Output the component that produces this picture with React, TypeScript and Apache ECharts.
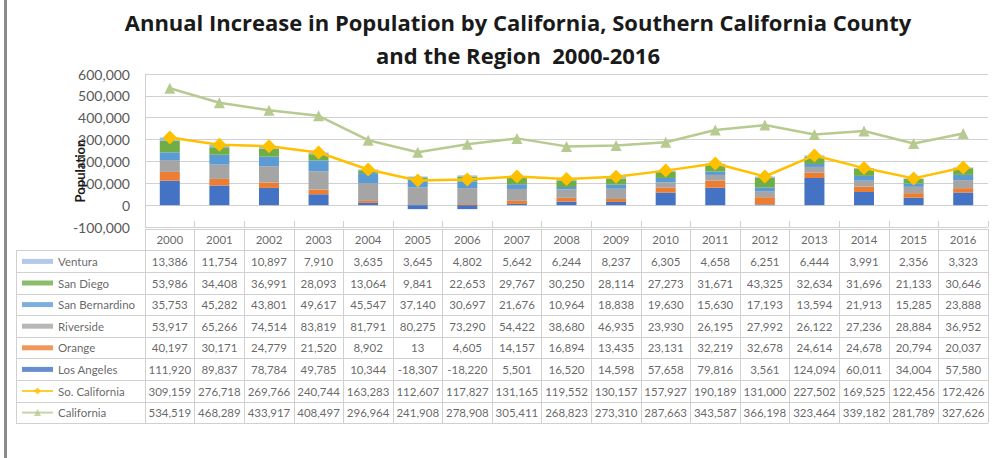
import React, { useEffect, useRef } from "react";
import * as echarts from "echarts";

const years = ["2000","2001","2002","2003","2004","2005","2006","2007","2008","2009","2010","2011","2012","2013","2014","2015","2016"];
const ventura = [13386, 11754, 10897, 7910, 3635, 3645, 4802, 5642, 6244, 8237, 6305, 4658, 6251, 6444, 3991, 2356, 3323];
const sanDiego = [53986, 34408, 36991, 28093, 13064, 9841, 22653, 29767, 30250, 28114, 27273, 31671, 43325, 32634, 31696, 21133, 30646];
const sanBernardino = [35753, 45282, 43801, 49617, 45547, 37140, 30697, 21676, 10964, 18838, 19630, 15630, 17193, 13594, 21913, 15285, 23888];
const riverside = [53917, 65266, 74514, 83819, 81791, 80275, 73290, 54422, 38680, 46935, 23930, 26195, 27992, 26122, 27236, 28884, 36952];
const orange = [40197, 30171, 24779, 21520, 8902, 13, 4605, 14157, 16894, 13435, 23131, 32219, 32678, 24614, 24678, 20794, 20037];
const losAngeles = [111920, 89837, 78784, 49785, 10344, -18307, -18220, 5501, 16520, 14598, 57658, 79816, 3561, 124094, 60011, 34004, 57580];
const soCalifornia = [309159, 276718, 269766, 240744, 163283, 112607, 117827, 131165, 119552, 130157, 157927, 190189, 131000, 227502, 169525, 122456, 172426];
const california = [534519, 468289, 433917, 408497, 296964, 241908, 278908, 305411, 268823, 273310, 287663, 343587, 366198, 323464, 339182, 281789, 327626];

const yMin = -100000;
const yMax = 600000;
const yStep = 100000;

const FONT = "Lato";
const TITLE_FONT = "Open Sans";
const fmt = (v: number) => v.toLocaleString("en-US");

const barSeries = [
  { name: "Los Angeles", data: losAngeles, color: "#4472c4" },
  { name: "Orange", data: orange, color: "#ed7d31" },
  { name: "Riverside", data: riverside, color: "#a5a5a5" },
  { name: "San Bernardino", data: sanBernardino, color: "#5b9bd5" },
  { name: "San Diego", data: sanDiego, color: "#70ad47" },
  { name: "Ventura", data: ventura, color: "#9fbbe3" },
];
const lineSeries = [
  { name: "So. California", data: soCalifornia, color: "#ffc000", symbol: "diamond", size: 14 },
  { name: "California", data: california, color: "#b7ca90", symbol: "triangle", size: 11 },
];

const tableRows = [
  { name: "Ventura", values: ventura },
  { name: "San Diego", values: sanDiego },
  { name: "San Bernardino", values: sanBernardino },
  { name: "Riverside", values: riverside },
  { name: "Orange", values: orange },
  { name: "Los Angeles", values: losAngeles },
  { name: "So. California", values: soCalifornia },
  { name: "California", values: california },
];

export default function App() {
  const ref = useRef<HTMLDivElement>(null);
  useEffect(() => {
    if (!ref.current) return;
    const chart = echarts.init(ref.current, null, { renderer: "svg" });

    const PL = 145, PW = 843, PT = 74, PH = 153;
    const TT = 229, RH = 21.6;
    const TH = RH * 9;
    const LL = 16;
    const LW = PL - LL;

    const cellData: any[] = [];
    years.forEach((y, i) => cellData.push({ value: [i, 0], t: y }));
    tableRows.forEach((row, r) =>
      row.values.forEach((v, i) => cellData.push({ value: [i, r + 1], t: fmt(v) }))
    );

    // legend-key column
    const keyData: any[] = [];
    tableRows.forEach((row) => {
      const bar = barSeries.find((b) => b.name === row.name);
      const line = lineSeries.find((l) => l.name === row.name);
      if (bar) {
        keyData.push({ value: [21.5, row.name], symbol: "rect", symbolSize: [31, 5], itemStyle: { color: bar.color } });
      } else if (line) {
        keyData.push({ value: [21.5, row.name], symbol: "rect", symbolSize: [31, 2], itemStyle: { color: line.color } });
        keyData.push({ value: [21.5, row.name], symbol: line.symbol, symbolSize: 7, itemStyle: { color: line.color } });
      }
    });
    const keyLabels = tableRows.map((row) => ({ value: [42, row.name], t: row.name }));

    const gridLine = "#d0d0d0";

    const option: any = {
      animation: false,
      backgroundColor: "#ffffff",
      textStyle: { fontFamily: FONT },
      grid: [
        { left: PL, top: PT, width: PW, height: PH },
        { left: PL, top: TT, width: PW, height: TH },
        { left: LL, top: TT + RH, width: LW, height: RH * 8 },
      ],
      xAxis: [
        {
          type: "category", gridIndex: 0, data: years, boundaryGap: true,
          axisLine: { show: false, onZero: false },
          axisTick: { show: true, inside: true, length: 6, lineStyle: { color: gridLine } },
          axisLabel: { show: false },
        },
        {
          type: "category", gridIndex: 1, data: years, boundaryGap: true,
          axisLine: { show: false }, axisTick: { show: false }, axisLabel: { show: false },
          splitLine: { show: true, interval: 0, lineStyle: { color: gridLine } },
        },
        { type: "value", gridIndex: 2, min: 0, max: LW, show: false },
      ],
      yAxis: [
        {
          type: "value", gridIndex: 0, min: yMin, max: yMax, interval: yStep,
          axisLine: { show: true, lineStyle: { color: gridLine } },
          axisTick: { show: false },
          axisLabel: { formatter: (v: number) => fmt(v), color: "#595959", fontSize: 14, fontFamily: FONT, margin: 15 },
          splitLine: { show: true, lineStyle: { color: gridLine } },
        },
        {
          type: "category", gridIndex: 1, inverse: true,
          data: ["", ...tableRows.map((r) => r.name)],
          axisLine: { show: false }, axisTick: { show: false }, axisLabel: { show: false },
          splitLine: { show: true, interval: 0, lineStyle: { color: gridLine } },
        },
        {
          type: "category", gridIndex: 2, inverse: true,
          data: tableRows.map((r) => r.name),
          axisLine: { show: true, lineStyle: { color: gridLine } },
          axisTick: { show: false }, axisLabel: { show: false },
          splitLine: { show: true, interval: 0, lineStyle: { color: gridLine } },
        },
      ],
      series: [
        ...barSeries.map((b) => ({
          type: "bar", name: b.name, data: b.data, stack: "total",
          xAxisIndex: 0, yAxisIndex: 0, barWidth: 20,
          itemStyle: { color: b.color }, z: 2,
        })),
        ...lineSeries.map((l) => ({
          type: "line", name: l.name, data: l.data,
          xAxisIndex: 0, yAxisIndex: 0,
          symbol: l.symbol, symbolSize: l.size,
          lineStyle: { color: l.color, width: 2.5 },
          itemStyle: { color: l.color },
          z: 3,
        })),
        {
          type: "scatter", name: "table", xAxisIndex: 1, yAxisIndex: 1,
          data: cellData, symbolSize: 1, silent: true,
          itemStyle: { color: "rgba(0,0,0,0)" },
          label: {
            show: true, position: "inside",
            formatter: (p: any) => p.data.t,
            color: "#404040", fontSize: 11.5, fontFamily: FONT,
          },
        },
        {
          type: "scatter", name: "keys", xAxisIndex: 2, yAxisIndex: 2,
          data: keyData, silent: true, z: 3,
        },
        {
          type: "scatter", name: "keyLabels", xAxisIndex: 2, yAxisIndex: 2,
          data: keyLabels, symbolSize: 1, silent: true,
          itemStyle: { color: "rgba(0,0,0,0)" },
          label: {
            show: true, position: "inside", align: "left",
            formatter: (p: any) => p.data.t,
            color: "#404040", fontSize: 11.5, fontFamily: FONT,
          },
        },
      ],
      graphic: [
        { type: "rect", shape: { x: 4, y: 0, width: 3, height: 458 }, style: { fill: "#8a8a8a" } },
        {
          type: "text", x: 518, y: 22,
          style: { text: "Annual Increase in Population by California, Southern California County", textAlign: "center", textVerticalAlign: "middle", font: `bold 22px '${TITLE_FONT}'`, fill: "#1a1a1a" },
        },
        {
          type: "text", x: 518, y: 55,
          style: { text: "and the Region  2000-2016", textAlign: "center", textVerticalAlign: "middle", font: `bold 22px '${TITLE_FONT}'`, fill: "#1a1a1a" },
        },
        {
          type: "text", x: 80, y: 171, rotation: Math.PI / 2, z: 100,
          style: { text: "Population", textAlign: "center", textVerticalAlign: "middle", font: `bold 13px ${FONT}`, fill: "#1a1a1a" },
        },
      ],
    };
    chart.setOption(option);
    return () => chart.dispose();
  }, []);
  return <div ref={ref} style={{ position: "fixed", left: 0, top: 0, width: 1004, height: 458 }} />;
}
